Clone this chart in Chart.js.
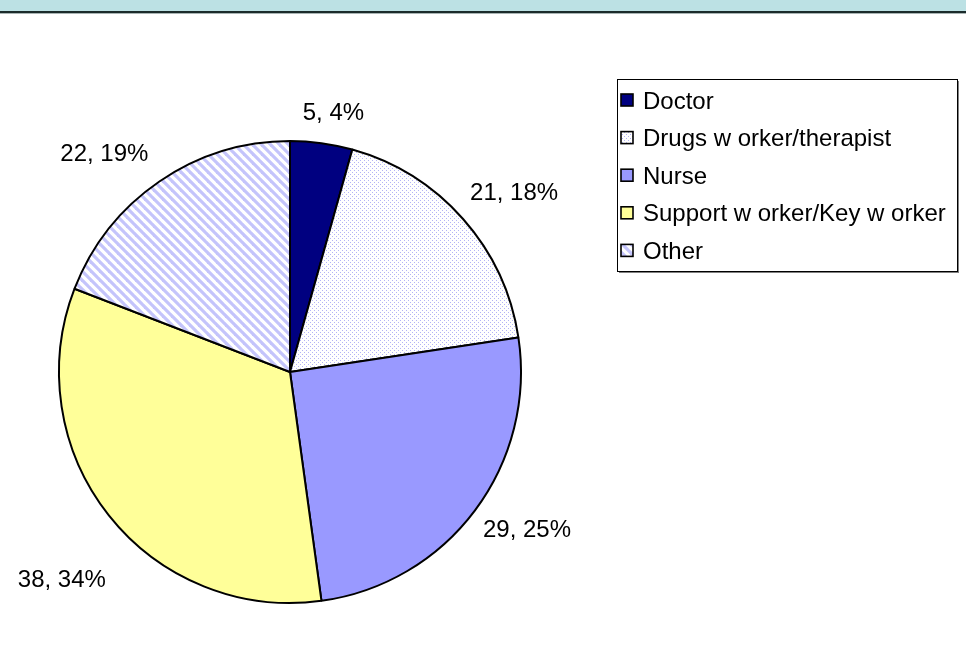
<!DOCTYPE html>
<html>
<head>
<meta charset="utf-8">
<script src="https://cdn.jsdelivr.net/npm/chart.js@4.4.1/dist/chart.umd.min.js"></script>
<style>
    html, body { margin: 0; padding: 0; background: #fff; }
    #wrap { position: relative; width: 966px; height: 652px; overflow: hidden; }
    #pie { position: absolute; left: 0; top: 0; }
    #band { position: absolute; left: 0; top: 0; width: 966px; height: 11px; background: #bce1e4; border-bottom: 2px solid #1b2b2b; }
    #band-shadow { position: absolute; left: 0; top: 13px; width: 966px; height: 1px; background: #a9b4b4; }
</style>
</head>
<body>
<div id="wrap">
    <canvas id="pie" width="966" height="652"></canvas>
    <div id="band"></div>
    <div id="band-shadow"></div>
</div>
<script>
// Chart data
const categories = ['Doctor', 'Drugs w orker/therapist', 'Nurse', 'Support w orker/Key w orker', 'Other'];
const counts = [5, 21, 29, 38, 22];
const percents = ['4%', '18%', '25%', '34%', '19%'];

const FONT = '24px "Liberation Sans", Arial, sans-serif';

// Fill patterns like the Excel ones
function dotPattern() {
    const c = document.createElement('canvas');
    c.width = 4; c.height = 4;
    const g = c.getContext('2d');
    g.fillStyle = '#ffffff';
    g.fillRect(0, 0, 4, 4);
    g.fillStyle = '#b3b3f5';
    g.fillRect(0, 0, 1, 1);
    g.fillRect(2, 2, 1, 1);
    return g.createPattern(c, 'repeat');
}

function stripePattern() {
    const size = 9;
    const c = document.createElement('canvas');
    c.width = size; c.height = size;
    const g = c.getContext('2d');
    g.fillStyle = '#ffffff';
    g.fillRect(0, 0, size, size);
    g.strokeStyle = '#c4c4fb';
    g.lineWidth = 3.2;
    // "\" direction stripes, drawn over the tile edges so they join up
    for (let k = -size; k <= size; k += size) {
        g.beginPath();
        g.moveTo(k - 3, -3);
        g.lineTo(k + size + 3, size + 3);
        g.stroke();
    }
    return g.createPattern(c, 'repeat');
}

const fills = ['#000080', dotPattern(), '#9999ff', '#ffff99', stripePattern()];

// label offsets from the arc's outer mid point
const labelOffsets = [[12, -32], [51, -28], [52, 18], [-47, 63], [-55, -29]];

const sliceLabels = {
    id: 'sliceLabels',
    afterDatasetsDraw(chart) {
        const ctx = chart.ctx;
        const meta = chart.getDatasetMeta(0);
        ctx.save();
        ctx.font = FONT;
        ctx.fillStyle = '#000';
        ctx.textAlign = 'center';
        ctx.textBaseline = 'alphabetic';
        meta.data.forEach((arc, i) => {
            const p = arc.getProps(['x', 'y', 'startAngle', 'endAngle', 'outerRadius'], true);
            const mid = (p.startAngle + p.endAngle) / 2;
            const lx = p.x + Math.cos(mid) * p.outerRadius + labelOffsets[i][0];
            const ly = p.y + Math.sin(mid) * p.outerRadius + labelOffsets[i][1];
            ctx.fillText(counts[i] + ', ' + percents[i], lx, ly + 8.6);
        });
        ctx.restore();
    }
};

const boxLegend = {
    id: 'boxLegend',
    afterDraw(chart) {
        const ctx = chart.ctx;
        const left = 617, top = 79, right = 957, bottom = 271;
        ctx.save();
        // box with a grey shadow
        ctx.fillStyle = '#808080';
        ctx.fillRect(left + 2, bottom, right - left, 2);
        ctx.fillRect(right, top + 2, 2, bottom - top);
        ctx.strokeStyle = '#000';
        ctx.lineWidth = 1;
        ctx.strokeRect(left + 0.5, top + 0.5, right - left, bottom - top);

        ctx.font = FONT;
        ctx.textBaseline = 'alphabetic';
        ctx.textAlign = 'left';
        categories.forEach((name, i) => {
            const cy = 100 + i * 37.6;
            ctx.fillStyle = fills[i];
            ctx.fillRect(621, cy - 6, 12, 12);
            ctx.strokeStyle = '#000';
            ctx.lineWidth = 1.6;
            ctx.strokeRect(621, cy - 6, 12, 12);
            ctx.fillStyle = '#000';
            ctx.fillText(name, 643, cy + 8.6);
        });
        ctx.restore();
    }
};

new Chart(document.getElementById('pie'), {
    type: 'pie',
    data: {
        labels: categories,
        datasets: [{
            data: counts,
            backgroundColor: fills,
            borderColor: '#000',
            borderWidth: 2,
            hoverOffset: 0
        }]
    },
    options: {
        responsive: false,
        devicePixelRatio: 1,
        animation: false,
        events: [],
        layout: { padding: { left: 58, top: 140, right: 444, bottom: 48 } },
        plugins: {
            legend: { display: false },
            tooltip: { enabled: false }
        }
    },
    plugins: [sliceLabels, boxLegend]
});
</script>
</body>
</html>
